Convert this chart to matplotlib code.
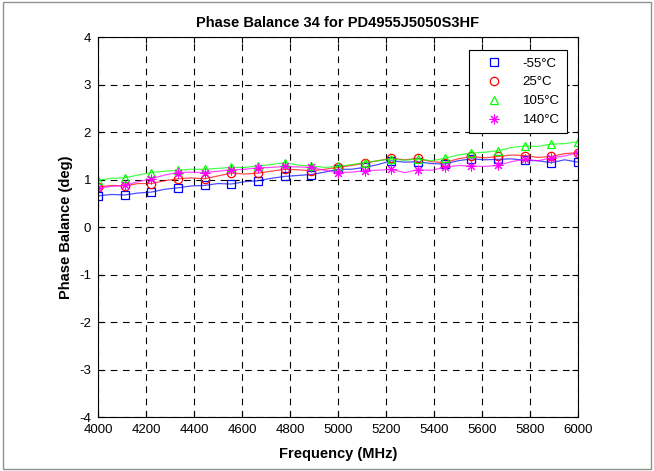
# phase balance vs frequency, four temperatures
import matplotlib
matplotlib.use('Agg')
import matplotlib.pyplot as plt
from matplotlib.patches import Rectangle

plt.rcParams['font.family'] = ['Liberation Sans', 'DejaVu Sans']
plt.rcParams['axes.unicode_minus'] = False

# frequency grid (MHz); markers sit on every other point
freq = [4000, 4056, 4111, 4167, 4222, 4278, 4333, 4389, 4444, 4500,
        4556, 4611, 4667, 4722, 4778, 4833, 4889, 4944, 5000, 5056,
        5111, 5167, 5222, 5278, 5333, 5389, 5444, 5500, 5556, 5611,
        5667, 5722, 5778, 5833, 5889, 5944, 6000]

bal_m55 = [0.66, 0.69, 0.68, 0.72, 0.74, 0.80, 0.83, 0.87, 0.88,
           0.92, 0.91, 0.96, 0.98, 1.03, 1.07, 1.09, 1.11, 1.16, 1.22,
           1.22, 1.26, 1.32, 1.40, 1.37, 1.38, 1.34, 1.33, 1.40, 1.44,
           1.42, 1.43, 1.44, 1.41, 1.40, 1.36, 1.42, 1.37]
bal_25 = [0.85, 0.88, 0.87, 0.92, 0.92, 0.98, 1.02, 1.04, 1.02,
          1.08, 1.14, 1.12, 1.14, 1.18, 1.22, 1.21, 1.19, 1.22, 1.26,
          1.30, 1.35, 1.40, 1.45, 1.42, 1.45, 1.38, 1.36, 1.44, 1.49,
          1.46, 1.49, 1.52, 1.51, 1.47, 1.49, 1.55, 1.57]
bal_105 = [0.99, 1.03, 1.04, 1.10, 1.15, 1.18, 1.20, 1.22, 1.22,
           1.24, 1.26, 1.26, 1.29, 1.32, 1.36, 1.31, 1.29, 1.26, 1.28,
           1.32, 1.36, 1.40, 1.44, 1.41, 1.44, 1.40, 1.45, 1.52, 1.56,
           1.58, 1.61, 1.68, 1.71, 1.70, 1.75, 1.76, 1.80]
bal_140 = [0.82, 0.86, 0.88, 0.96, 1.02, 1.10, 1.15, 1.16, 1.15,
           1.18, 1.21, 1.22, 1.25, 1.26, 1.28, 1.27, 1.26, 1.20, 1.15,
           1.16, 1.19, 1.20, 1.22, 1.15, 1.21, 1.20, 1.26, 1.30, 1.29,
           1.28, 1.30, 1.38, 1.43, 1.40, 1.46, 1.50, 1.57]

labels = ['-55°C', '25°C', '105°C', '140°C']
series = [bal_m55, bal_25, bal_105, bal_140]
colors = ['#0000ff', '#ff0000', '#00ff00', '#ff00ff']
markers = ['s', 'o', '^', (8, 2, 0)]

fig = plt.figure(figsize=(6.54, 4.71), dpi=100)
ax = fig.add_axes([0.1498, 0.114, 0.734, 0.807])

for vals, lab, col, mk in zip(series, labels, colors, markers):
    ax.plot(freq, vals, color=col, lw=0.9, alpha=0.7)
    ax.plot(freq, vals, ls='none', marker=mk, markevery=2,
            mfc='none', mec=col, ms=7 if mk == markers[3] else 6,
            mew=0.75 if mk == markers[3] else 0.9, label=lab)

ax.set_xlim(4000, 6000)
ax.set_ylim(-4, 4)
ax.set_xticks(range(4000, 6001, 200))
ax.set_yticks(range(-4, 5))
ax.grid(True, color='black', ls=(0, (6, 5)), lw=0.8)
ax.tick_params(direction='in', top=True, right=True, labelsize=9.5,
               length=4, pad=5)
for sp in ax.spines.values():
    sp.set_linewidth(0.8)

ax.set_title('Phase Balance 34 for PD4955J5050S3HF', fontsize=10.5,
             fontweight='bold', pad=7)
ax.set_xlabel('Frequency (MHz)', fontsize=10.5, fontweight='bold', labelpad=8)
ax.set_ylabel('Phase Balance (deg)', fontsize=10.5, fontweight='bold', labelpad=4)

leg = ax.legend(loc='upper right', fontsize=9.5, fancybox=False,
                edgecolor='black', framealpha=1, handletextpad=0.9,
                borderpad=0.55, labelspacing=0.5, handlelength=2.6,
                borderaxespad=0, bbox_to_anchor=(0.977, 0.966))
leg.get_frame().set_linewidth(0.8)

fig.patches.append(Rectangle((0.004, 0.005), 0.992, 0.99, transform=fig.transFigure,
                             fill=False, edgecolor='#909090', lw=1))

fig.savefig('out.png', dpi=100)
